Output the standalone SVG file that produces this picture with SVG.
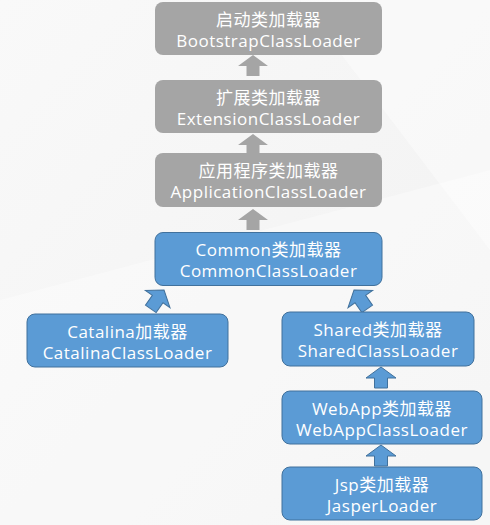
<svg xmlns="http://www.w3.org/2000/svg" width="490" height="525" viewBox="0 0 490 525">
<defs>
<linearGradient id="bg" x1="0" y1="0" x2="1" y2="1">
<stop offset="0" stop-color="#f9f9f9"/>
<stop offset="1" stop-color="#f1f1f1"/>
</linearGradient>
<path id="up" d="M0,0 L15,11 L6.5,11 L6.5,21 L-6.5,21 L-6.5,11 L-15,11 Z"/>
<path id="diag" d="M0,0 L15,11 L6.5,11 L6.5,23 L-6.5,23 L-6.5,11 L-15,11 Z"/>
</defs>
<style>
.gbox{fill:#a5a5a5;}
.bbox{fill:#5b9bd5;stroke:#41719c;stroke-width:1;}
.garr{fill:#a5a5a5;}
.barr{fill:#5b9bd5;stroke:#41719c;stroke-width:1;}
text{font-family:"Open Sans","Noto Sans CJK SC",sans-serif;font-size:17px;letter-spacing:0.5px;fill:#ffffff;text-anchor:middle;}
</style>
<rect width="490" height="525" fill="url(#bg)"/>
<polygon points="0,300 490,170 490,525 0,525" fill="#ffffff" opacity="0.35"/>
<polygon points="300,0 490,0 490,250" fill="#ffffff" opacity="0.4"/>

<g id="connectors">
<use href="#up" x="253" y="55" class="garr"/>
<use href="#up" x="253" y="134" class="garr"/>
<use href="#up" x="253" y="209" class="garr"/>
<use href="#diag" class="barr" transform="translate(164,290) rotate(35)"/>
<use href="#diag" class="barr" transform="translate(354,290) rotate(-35)"/>
<use href="#up" x="381" y="367" class="barr"/>
<use href="#up" x="381" y="445" class="barr"/>
</g>

<g id="bootstrap">
<rect class="gbox" x="155" y="2" width="227" height="53" rx="8"/>
<text x="268.5" y="25.5">启动类加载器</text>
<text x="268.5" y="46.5">BootstrapClassLoader</text>
</g>
<g id="extension">
<rect class="gbox" x="155" y="80" width="227" height="53" rx="8"/>
<text x="268.5" y="103.5">扩展类加载器</text>
<text x="268.5" y="124.5">ExtensionClassLoader</text>
</g>
<g id="application">
<rect class="gbox" x="155" y="153" width="227" height="54" rx="8"/>
<text x="268.5" y="176.5">应用程序类加载器</text>
<text x="268.5" y="197.5">ApplicationClassLoader</text>
</g>
<g id="common">
<rect class="bbox" x="155" y="232.5" width="227" height="53" rx="8"/>
<text x="268.5" y="256">Common类加载器</text>
<text x="268.5" y="277">CommonClassLoader</text>
</g>
<g id="catalina">
<rect class="bbox" x="27" y="314" width="201" height="53" rx="8"/>
<text x="127.5" y="337.5">Catalina加载器</text>
<text x="127.5" y="358.5">CatalinaClassLoader</text>
</g>
<g id="shared">
<rect class="bbox" x="282" y="312" width="192" height="54" rx="8"/>
<text x="378" y="335.5">Shared类加载器</text>
<text x="378" y="356.5">SharedClassLoader</text>
</g>
<g id="webapp">
<rect class="bbox" x="282" y="391" width="200" height="53" rx="8"/>
<text x="382" y="414.5">WebApp类加载器</text>
<text x="382" y="435.5">WebAppClassLoader</text>
</g>
<g id="jsp">
<rect class="bbox" x="282" y="467" width="200" height="53" rx="8"/>
<text x="382" y="490.5">Jsp类加载器</text>
<text x="382" y="511.5">JasperLoader</text>
</g>
</svg>
